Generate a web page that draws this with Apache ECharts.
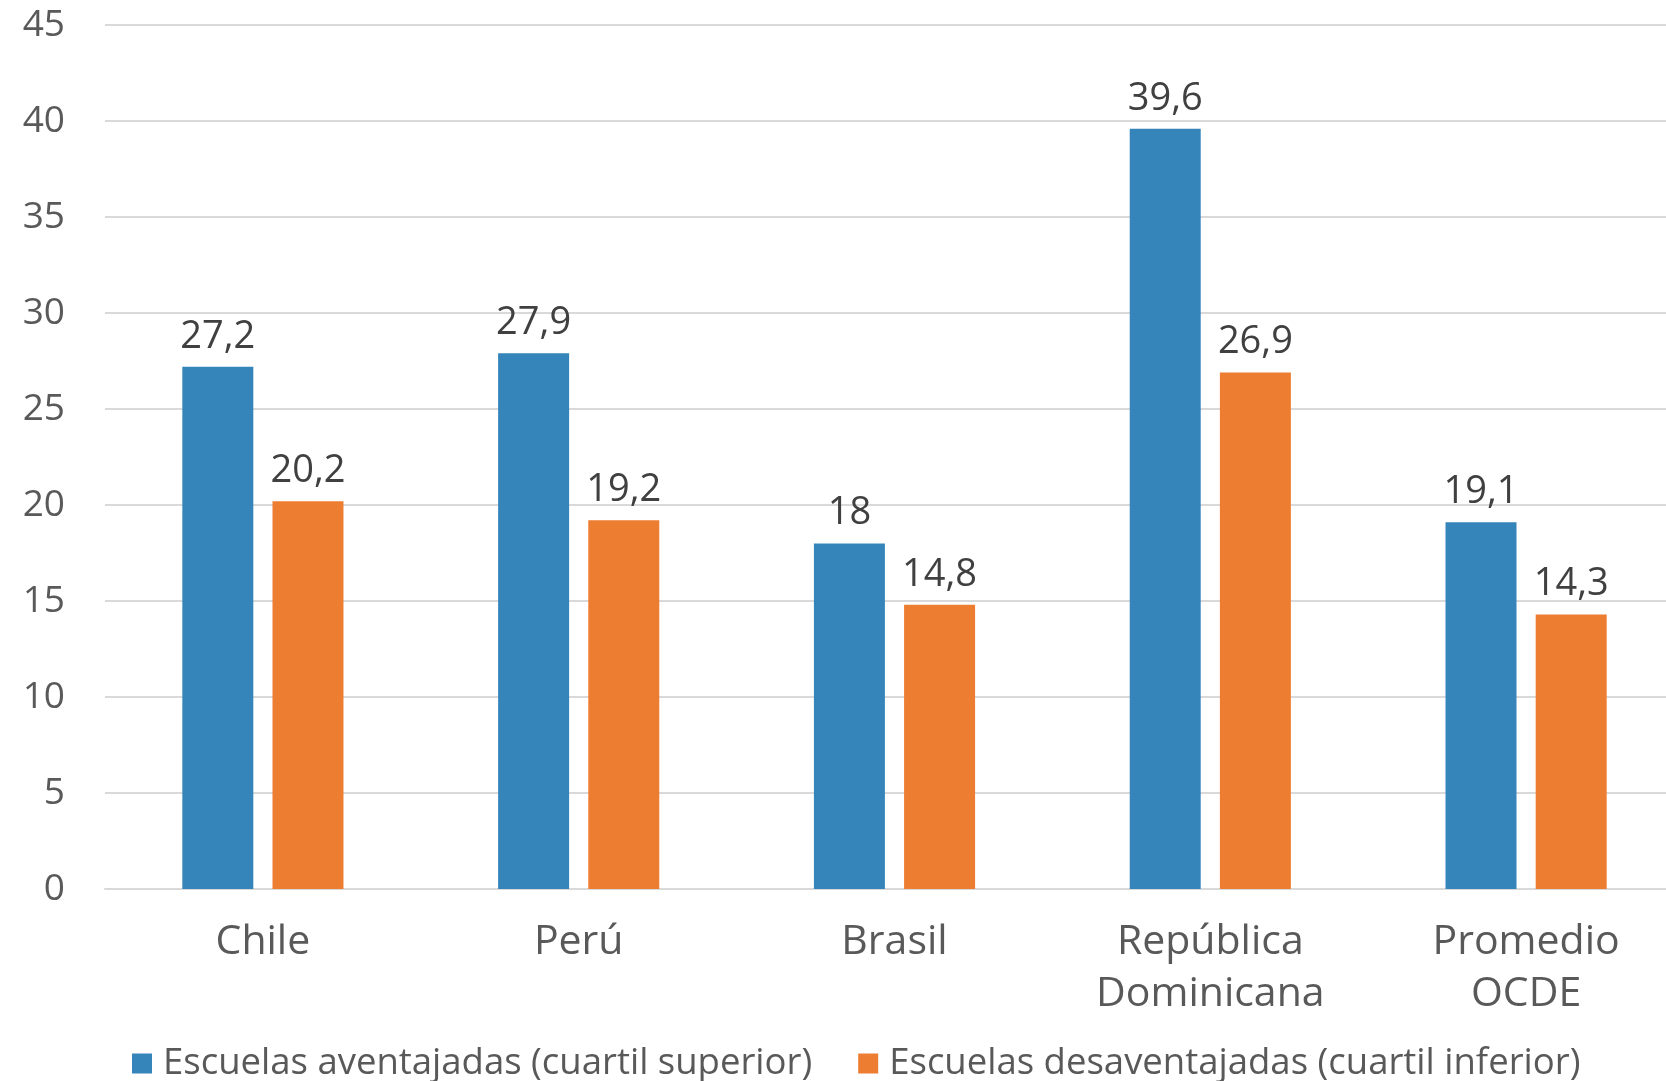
<!DOCTYPE html>
<html>
<head>
<meta charset="utf-8">
<script src="https://cdn.jsdelivr.net/npm/echarts@6/dist/echarts.min.js"></script>
<style>html,body{margin:0;padding:0;background:#fff;}#c{width:1666px;height:1081px;}</style>
</head>
<body>
<div id="c"></div>
<script>
const categories = ['Chile', 'Perú', 'Brasil', 'República\nDominicana', 'Promedio\nOCDE'];
const seriesNames = ['Escuelas aventajadas (cuartil superior)', 'Escuelas desaventajadas (cuartil inferior)'];
const aventajadas = [27.2, 27.9, 18, 39.6, 19.1];
const desaventajadas = [20.2, 19.2, 14.8, 26.9, 14.3];
const yTicks = { min: 0, max: 45, interval: 5 };

const FONT = 'Open Sans';
const chart = echarts.init(document.getElementById('c'), null, { renderer: 'canvas' });
const labelCfg = {
  show: true,
  position: 'top',
  distance: 11,
  color: '#404040',
  fontFamily: FONT,
  fontSize: 38,
  formatter: p => String(p.value).replace('.', ',')
};
chart.setOption({
  animation: false,
  backgroundColor: '#ffffff',
  grid: { left: 105, width: 1579, top: 25, bottom: 192, containLabel: false, outerBoundsMode: 'none' },
  legend: {
    left: 132,
    top: 1045,
    padding: 0,
    itemWidth: 20,
    itemHeight: 20,
    itemGap: 46,
    icon: 'rect',
    textStyle: { color: '#595959', fontFamily: FONT, fontSize: 36.5, padding: [0, 0, 0, 6] },
    data: seriesNames
  },
  xAxis: {
    type: 'category',
    data: categories,
    axisLine: { show: true, lineStyle: { color: '#d9d9d9', width: 2 } },
    axisTick: { show: false },
    axisLabel: { color: '#595959', fontFamily: FONT, fontSize: 41, lineHeight: 52, margin: 27, interval: 0 }
  },
  yAxis: {
    type: 'value',
    min: yTicks.min,
    max: yTicks.max,
    interval: yTicks.interval,
    axisLine: { show: false },
    axisTick: { show: false },
    splitLine: { lineStyle: { color: '#d9d9d9', width: 2 } },
    axisLabel: { color: '#595959', fontFamily: FONT, fontSize: 37, margin: 40 }
  },
  series: [
    { name: seriesNames[0], type: 'bar', data: aventajadas, barWidth: 71, barGap: '27%', itemStyle: { color: '#3585BA' }, label: labelCfg },
    { name: seriesNames[1], type: 'bar', data: desaventajadas, barWidth: 71, itemStyle: { color: '#ED7D31' }, label: labelCfg }
  ]
});
</script>
</body>
</html>
